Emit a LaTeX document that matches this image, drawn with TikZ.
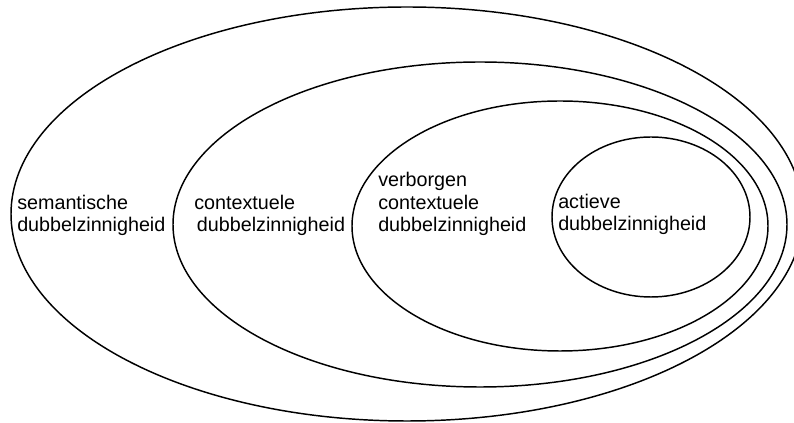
\documentclass[tikz,border=0pt]{standalone}
\usepackage{fontspec}
\setmainfont{Liberation Sans}
\begin{document}
\begin{tikzpicture}[x=0.75pt,y=-0.75pt,
  ring/.style={line width=1.1pt},
  lbl/.style={anchor=base west, align=left, inner sep=0pt,
    font=\fontsize{14.8}{16.9}\selectfont}]
  \useasboundingbox (0,0) rectangle (794,423);
  % nested sets
  \draw[ring] (407,214) ellipse [x radius=396, y radius=207];
  \draw[ring] (480,224.5) ellipse [x radius=307, y radius=162.5];
  \draw[ring] (560,226) ellipse [x radius=208, y radius=125];
  \draw[ring] (651,217) ellipse [x radius=99, y radius=80];
  % set names
  \node[lbl] (sem) at (17,232) {semantische\\dubbelzinnigheid};
  \node[lbl] (ctx) at (194,232) {contextuele\\\hspace*{2pt}dubbelzinnigheid};
  \node[lbl] (hid) at (378,232) {verborgen\\contextuele\\dubbelzinnigheid};
  \node[lbl] (act) at (558,231) {actieve\\dubbelzinnigheid};
\end{tikzpicture}
\end{document}
